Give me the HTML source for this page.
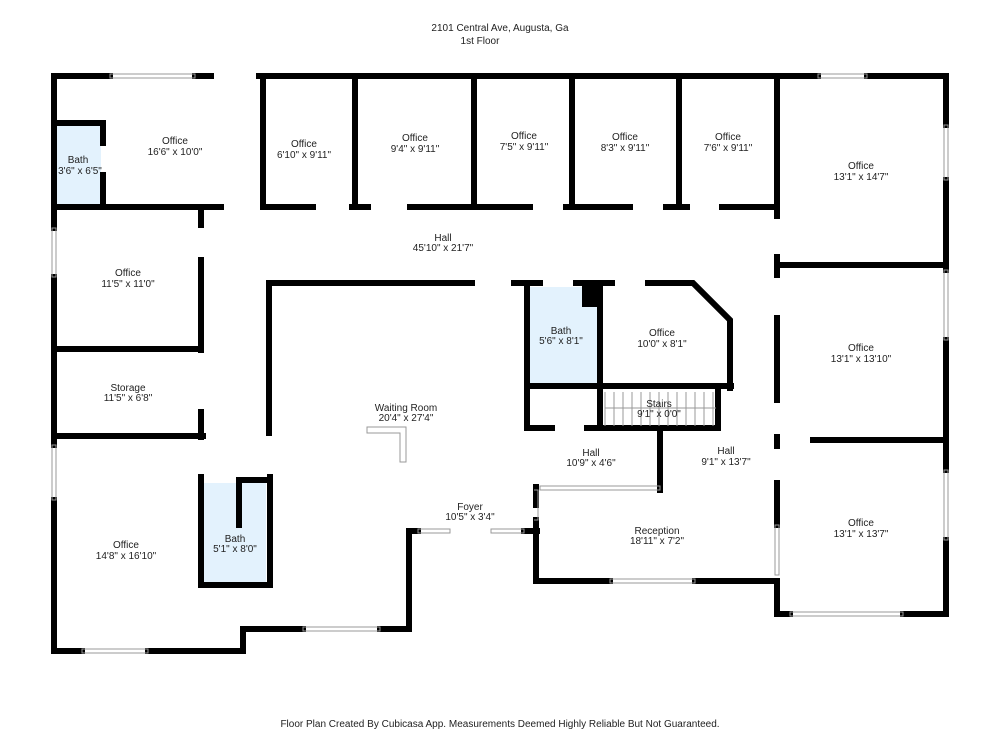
<!DOCTYPE html><html><head><style>body{margin:0;background:#fff}svg text{font-family:"Liberation Sans",sans-serif;font-size:10px;fill:#222;text-anchor:middle}</style></head><body>
<svg width="1000" height="750" viewBox="0 0 1000 750" xmlns="http://www.w3.org/2000/svg">
<rect width="1000" height="750" fill="#fff"/>
<g fill="#e3f2fd"><rect x="57" y="126" width="44" height="80"/><rect x="530" y="287" width="68" height="98"/><rect x="204" y="483" width="62" height="100"/></g>
<g stroke="#000" stroke-width="6" fill="none" stroke-linecap="square">
<path d="M54 76H110M195 76H211M259 76H818M867 76H946V125M946 180V270M946 340V470M946 540V614H903M790 614H777V581H695M610 581H536V520M536 505V487"/>
<path d="M54 76V228M54 277V445M54 500V651H82M148 651H243V629H303M380 629H409V531H418M524 531H537"/>
<path d="M263 76V207M355 76V207M474 76V207M572 76V207M679 76V207M777 76V216"/>
<path d="M54 207H221M54 123H103V143M103 175V207"/>
<path d="M263 207H313M352 207H368M410 207H530M566 207H630M666 207H687M722 207H777"/>
<path d="M201 210V225M201 260V350M201 412V437M54 349H201M54 436H203"/>
<path d="M269 285V433M269 283H472M514 283H540M576 283H612M648 283H693L730 320V388"/>
<path d="M527 283V428M600 283V428M527 386H731M527 428H552M587 428H718V390M660 428V490"/>
<path d="M777 257V275M777 318V400M777 437V446M777 483V525M779 265H946M813 440H946"/>
<path d="M201 477V585H270V477M239 480V525M239 480H269"/>
</g>
<rect x="582" y="283" width="18" height="24" fill="#000"/>
<g stroke="#999" stroke-width="1" fill="none"><path d="M605 392V426M614 392V426M623 392V426M632 392V426M641 392V426M650 392V426M659 392V426M668 392V426M677 392V426M686 392V426M695 392V426M704 392V426M713 392V426M605 408H716"/>
<path d="M110 74H195V78H110ZM818 74H867V78H818ZM944 125H948V180H944ZM944 270H948V340H944ZM944 470H948V540H944ZM52 228H56V277H52ZM52 445H56V500H52ZM82 649H148V653H82ZM303 627H380V631H303ZM418 529H450V533H418ZM491 529H524V533H491ZM610 579H695V583H610ZM790 612H903V616H790ZM540 486H660V490H540ZM775 525H779V575H775ZM534 490H538V520H534"/>
<path d="M367 427H406V462H400V433H367Z"/></g>
<text x="500" y="31">2101 Central Ave, Augusta, Ga</text><text x="480" y="44">1st Floor</text>
<text x="175" y="144">Office</text><text x="175" y="155">16'6" x 10'0"</text>
<text x="78" y="163">Bath</text><text x="80" y="174">3'6" x 6'5"</text>
<text x="304" y="147">Office</text><text x="304" y="158">6'10" x 9'11"</text>
<text x="415" y="141">Office</text><text x="415" y="152">9'4" x 9'11"</text>
<text x="524" y="139">Office</text><text x="524" y="150">7'5" x 9'11"</text>
<text x="625" y="140">Office</text><text x="625" y="151">8'3" x 9'11"</text>
<text x="728" y="140">Office</text><text x="728" y="151">7'6" x 9'11"</text>
<text x="861" y="169">Office</text><text x="861" y="180">13'1" x 14'7"</text>
<text x="443" y="241">Hall</text><text x="443" y="251">45'10" x 21'7"</text>
<text x="128" y="276">Office</text><text x="128" y="287">11'5" x 11'0"</text>
<text x="561" y="334">Bath</text><text x="561" y="344">5'6" x 8'1"</text>
<text x="662" y="336">Office</text><text x="662" y="347">10'0" x 8'1"</text>
<text x="861" y="351">Office</text><text x="861" y="362">13'1" x 13'10"</text>
<text x="128" y="391">Storage</text><text x="128" y="401">11'5" x 6'8"</text>
<text x="406" y="411">Waiting Room</text><text x="406" y="421">20'4" x 27'4"</text>
<text x="659" y="407">Stairs</text><text x="659" y="417">9'1" x 0'0"</text>
<text x="591" y="456">Hall</text><text x="591" y="466">10'9" x 4'6"</text>
<text x="726" y="454">Hall</text><text x="726" y="465">9'1" x 13'7"</text>
<text x="470" y="510">Foyer</text><text x="470" y="520">10'5" x 3'4"</text>
<text x="861" y="526">Office</text><text x="861" y="537">13'1" x 13'7"</text>
<text x="657" y="534">Reception</text><text x="657" y="544">18'11" x 7'2"</text>
<text x="126" y="548">Office</text><text x="126" y="559">14'8" x 16'10"</text>
<text x="235" y="542">Bath</text><text x="235" y="552">5'1" x 8'0"</text>
<text x="500" y="727">Floor Plan Created By Cubicasa App. Measurements Deemed Highly Reliable But Not Guaranteed.</text>
</svg></body></html>
